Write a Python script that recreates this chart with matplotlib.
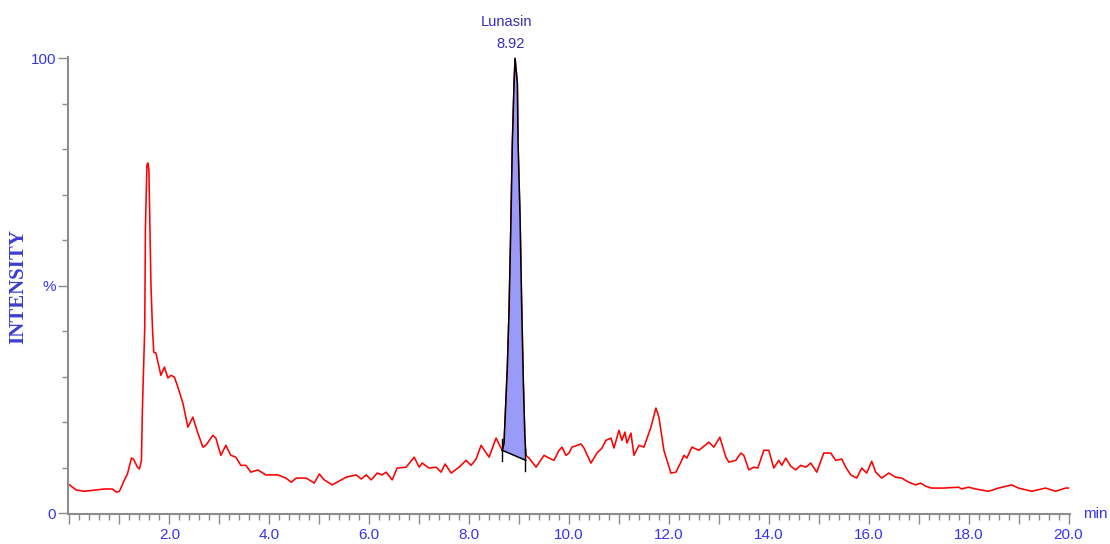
import numpy as np
import matplotlib
matplotlib.use("Agg")
import matplotlib.pyplot as plt
from matplotlib.ticker import MultipleLocator, FuncFormatter, FixedLocator

# ---- data (retention time in min, relative intensity in %) ----
time_pre = [0.00, 0.14, 0.30, 0.50, 0.70, 0.86, 0.94, 1.00, 1.10, 1.16, 1.24, 1.28,
            1.36, 1.40, 1.44, 1.46, 1.506, 1.52, 1.55, 1.57, 1.59, 1.61, 1.63, 1.66,
            1.686, 1.73, 1.83, 1.90, 1.97, 2.03, 2.10, 2.17, 2.27, 2.37, 2.47, 2.57,
            2.67, 2.73, 2.87, 2.93, 3.03, 3.13, 3.23, 3.33, 3.43, 3.53, 3.63, 3.77,
            3.93, 4.17, 4.33, 4.44, 4.54, 4.74, 4.90, 5.00, 5.10, 5.26, 5.44, 5.54,
            5.74, 5.84, 5.94, 6.04, 6.16, 6.26, 6.34, 6.46, 6.56, 6.74, 6.90, 7.00,
            7.06, 7.20, 7.34, 7.44, 7.52, 7.64, 7.80, 7.94, 8.04, 8.14, 8.24, 8.40,
            8.54, 8.64]
inten_pre = [6.2, 5.05, 4.8, 5.05, 5.3, 5.3, 4.6, 4.8, 7.3, 8.6, 12.1, 11.9,
             10.1, 9.7, 11.6, 23.0, 40.7, 62.6, 76.5, 77.0, 75.4, 62.6, 50.5, 40.9,
             35.4, 35.2, 30.3, 32.1, 29.7, 30.3, 29.9, 27.7, 24.2, 18.9, 21.1, 17.6,
             14.5, 14.9, 17.1, 16.5, 12.7, 14.9, 12.7, 12.3, 10.5, 10.5, 9.0, 9.5,
             8.4, 8.4, 7.7, 6.8, 7.7, 7.7, 6.6, 8.6, 7.3, 6.2, 7.3, 7.9,
             8.4, 7.5, 8.4, 7.3, 8.8, 8.4, 9.0, 7.3, 9.9, 10.1, 12.3, 10.1,
             11.0, 9.9, 10.1, 9.0, 10.8, 8.8, 10.1, 11.6, 10.5, 11.9, 14.9, 12.3,
             16.5, 14.3]

time_peak = [8.666, 8.70, 8.766, 8.80, 8.834, 8.866, 8.90, 8.92, 8.966, 8.98,
             9.02, 9.054, 9.086, 9.114, 9.134]
inten_peak = [13.8, 15.4, 32.1, 44.6, 62.2, 81.3, 94.5, 100.0, 94.5, 81.3,
              65.0, 44.6, 28.6, 17.6, 12.7]

time_post = [9.20, 9.34, 9.50, 9.60, 9.70, 9.80, 9.86, 9.94, 10.00, 10.06, 10.24,
             10.30, 10.44, 10.56, 10.66, 10.74, 10.84, 10.90, 11.00, 11.06, 11.12,
             11.16, 11.24, 11.30, 11.40, 11.50, 11.64, 11.74, 11.80, 11.90, 12.04,
             12.14, 12.24, 12.30, 12.36, 12.46, 12.60, 12.80, 12.90, 13.02, 13.14,
             13.20, 13.34, 13.44, 13.50, 13.60, 13.70, 13.78, 13.90, 14.00, 14.10,
             14.20, 14.26, 14.34, 14.44, 14.54, 14.64, 14.74, 14.84, 14.96, 15.10,
             15.24, 15.34, 15.46, 15.54, 15.64, 15.76, 15.86, 15.96, 16.06, 16.14,
             16.26, 16.40, 16.54, 16.66, 16.80, 16.94, 17.04, 17.14, 17.26, 17.50,
             17.80, 17.86, 18.00, 18.14, 18.40, 18.60, 18.86, 19.00, 19.26, 19.54,
             19.74, 19.94, 20.00]
inten_post = [12.1, 10.1, 12.7, 12.1, 11.6, 13.8, 14.5, 12.7, 13.2, 14.5, 15.2,
              14.3, 11.0, 13.2, 14.3, 16.0, 16.5, 14.3, 18.2, 16.0, 17.8,
              15.4, 17.6, 12.7, 14.9, 14.5, 18.9, 23.1, 21.1, 13.8, 8.8,
              9.0, 11.2, 12.7, 12.1, 14.5, 13.8, 15.6, 14.5, 16.7, 12.3,
              11.2, 11.6, 13.2, 12.7, 9.5, 10.1, 9.9, 13.8, 13.8, 9.9,
              11.6, 10.5, 12.1, 10.3, 9.5, 10.5, 10.1, 11.0, 9.0, 13.2,
              13.2, 11.6, 11.9, 10.1, 8.4, 7.7, 9.9, 8.8, 11.4, 9.0,
              7.7, 8.8, 7.9, 7.7, 6.8, 6.2, 6.6, 5.9, 5.5, 5.5,
              5.7, 5.3, 5.7, 5.3, 4.8, 5.5, 6.2, 5.5, 4.8, 5.5,
              4.8, 5.5, 5.5]

peak_name = "Lunasin"
peak_rt = 8.92
baseline_start = (8.666, 13.8)
baseline_end = (9.134, 11.6)

x_ticks_labeled = [2.0, 4.0, 6.0, 8.0, 10.0, 12.0, 14.0, 16.0, 18.0, 20.0]
y_tick_values = [0, 50, 100]
y_tick_labels = ["0", "%", "100"]

# ---- style ----
RED = "#ff0000"
TICKBLUE = "#3535f0"
ANNBLUE = "#3a2cb8"
GRAY = "#8c8c8c"
FILL = "#9a9af8"

fig = plt.figure(figsize=(11.10, 5.44), dpi=100)
ax = fig.add_axes([68 / 1110, 30 / 544, (1070 - 68) / 1110, (487 - 30) / 544])

t_all = np.array(time_pre + time_peak + time_post)
i_all = np.array(inten_pre + inten_peak + inten_post)
ax.plot(t_all, i_all, color=RED, lw=1.15, zorder=2)

# integrated peak
tp = np.array(time_peak)
ip = np.array(inten_peak)
base = np.interp(tp, [baseline_start[0], baseline_end[0]],
                 [baseline_start[1], baseline_end[1]])
ax.fill_between(tp, base, ip, color=FILL, lw=0, zorder=3)
ax.plot(tp, ip, color="black", lw=1.1, zorder=4)
ax.plot([baseline_start[0], baseline_end[0]], [baseline_start[1], baseline_end[1]],
        color="black", lw=1.1, zorder=4)
for (bt, bi) in (baseline_start, baseline_end):
    ax.plot([bt - 0.012, bt - 0.012], [bi - 2.4, bi + 2.4], color="black", lw=1.0, zorder=4)

ax.annotate(peak_name, xy=(peak_rt, 100), xytext=(-6, 21),
            textcoords="offset points", ha="center", va="bottom",
            fontsize=10.5, color=ANNBLUE, family="Liberation Sans")
ax.annotate(f"{peak_rt:.2f}", xy=(peak_rt, 100), xytext=(-3, 5),
            textcoords="offset points", ha="center", va="bottom",
            fontsize=10.5, color=ANNBLUE, family="Liberation Sans")

# ---- axes ----
ax.set_xlim(-0.03, 20.03)
ax.set_ylim(-0.2, 100.3)
for s in ("top", "right"):
    ax.spines[s].set_visible(False)
for s in ("left", "bottom"):
    ax.spines[s].set_color(GRAY)
    ax.spines[s].set_linewidth(1.5)

ax.xaxis.set_major_locator(MultipleLocator(1.0))
ax.xaxis.set_minor_locator(FixedLocator([k * 0.2 for k in range(1, 101) if k % 5 != 0]))
ax.xaxis.set_major_formatter(FuncFormatter(
    lambda v, p: f"{v:.1f}" if round(v, 3) in x_ticks_labeled else ""))
ax.yaxis.set_major_locator(FixedLocator(y_tick_values))
ax.yaxis.set_major_formatter(FuncFormatter(
    lambda v, p: y_tick_labels[y_tick_values.index(int(round(v)))] if int(round(v)) in y_tick_values else ""))
ax.yaxis.set_minor_locator(MultipleLocator(10))

ax.tick_params(axis="both", which="major", length=7, width=1.0, color=GRAY,
               labelcolor=TICKBLUE, labelsize=11, direction="out")
ax.tick_params(axis="both", which="minor", length=4, width=1.0, color=GRAY, direction="out")
ax.tick_params(axis="x", which="major", pad=3)
ax.tick_params(axis="y", which="major", pad=1.5)
for lab in ax.get_xticklabels() + ax.get_yticklabels():
    lab.set_family("Liberation Sans")

ax.text(1.013, 0.0, "min", transform=ax.transAxes, ha="left", va="center",
        fontsize=11, color=TICKBLUE, family="Liberation Sans")

fig.text(18 / 1110, 1 - 287 / 544, "INTENSITY", rotation=90, ha="center", va="center",
         fontsize=15, fontweight="bold", color="#3c3cd2", family="Liberation Serif")

fig.savefig("out.png", dpi=100)
